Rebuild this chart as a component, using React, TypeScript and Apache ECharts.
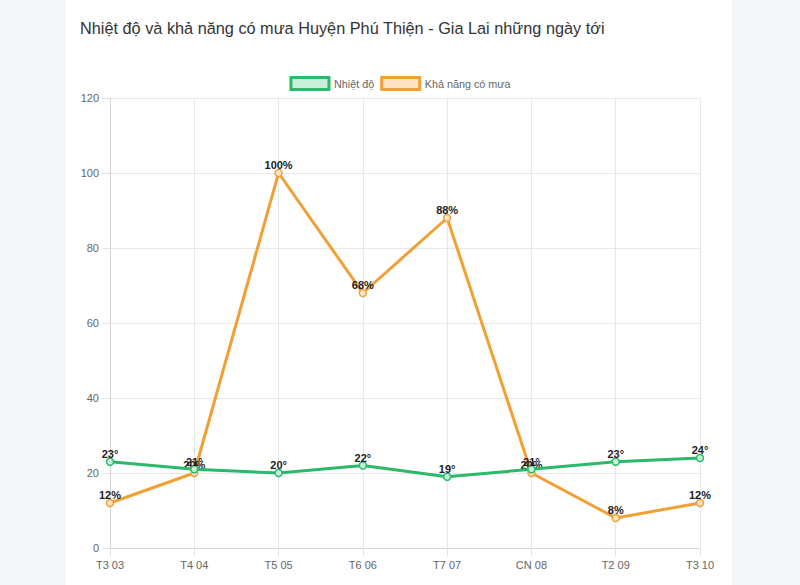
import React, { useEffect, useRef } from 'react';
import * as echarts from 'echarts';

const titleText = 'Nhiệt độ và khả năng có mưa Huyện Phú Thiện - Gia Lai những ngày tới';
const categories = ['T3 03', 'T4 04', 'T5 05', 'T6 06', 'T7 07', 'CN 08', 'T2 09', 'T3 10'];
const temperature = [23, 21, 20, 22, 19, 21, 23, 24];
const rainChance = [12, 20, 100, 68, 88, 20, 8, 12];
const seriesNames = ['Nhiệt độ', 'Khả năng có mưa'];

const GREEN = '#2bb96c';
const GREEN_FILL = '#c9eed9';
const ORANGE = '#f1a035';
const ORANGE_FILL = '#fde4c6';
const FONT = '"Liberation Sans", Arial, Helvetica, sans-serif';

export default function App() {
  const ref = useRef<HTMLDivElement>(null);

  useEffect(() => {
    if (!ref.current) return;
    const chart = echarts.init(ref.current, undefined, { renderer: 'svg' });
    const labelStyle = {
      show: true,
      position: 'top' as const,
      distance: -2,
      color: '#222',
      fontWeight: 'bold' as const,
      fontSize: 11,
      fontFamily: FONT,
    };
    chart.setOption({
      animation: false,
      backgroundColor: 'transparent',
      textStyle: { fontFamily: FONT },
      title: {
        text: titleText,
        left: 75,
        top: 15,
        textStyle: { fontSize: 16.3, fontWeight: 'normal', color: '#333', fontFamily: FONT },
      },
      legend: {
        top: 71,
        left: 'center',
        icon: 'rect',
        itemWidth: 38,
        itemHeight: 12,
        itemGap: 6,
        textStyle: { color: '#666', fontSize: 10.8, fontFamily: FONT },
        data: [
          { name: seriesNames[0], itemStyle: { color: GREEN_FILL, borderColor: GREEN, borderWidth: 3 } },
          { name: seriesNames[1], itemStyle: { color: ORANGE_FILL, borderColor: ORANGE, borderWidth: 3 } },
        ],
      },
      grid: { left: 110, right: 100, top: 98, bottom: 37 },
      xAxis: {
        type: 'category',
        data: categories,
        boundaryGap: false,
        axisLine: { show: true, lineStyle: { color: '#d4d4d4', width: 1 } },
        axisTick: { show: true, length: 8, lineStyle: { color: '#e3e3e3' } },
        splitLine: { show: true, lineStyle: { color: '#e8e8e8', width: 1 } },
        axisLabel: { color: '#666', fontSize: 11, margin: 11, fontFamily: FONT },
      },
      yAxis: {
        type: 'value',
        min: 0,
        max: 120,
        interval: 20,
        axisLine: { show: true, lineStyle: { color: '#d4d4d4', width: 1 } },
        axisTick: { show: true, length: 8, lineStyle: { color: '#e3e3e3' } },
        splitLine: { show: true, lineStyle: { color: '#e8e8e8', width: 1 } },
        axisLabel: { color: '#666', fontSize: 11, margin: 11, fontFamily: FONT },
      },
      series: [
        {
          name: seriesNames[0],
          type: 'line',
          data: temperature,
          symbol: 'circle',
          symbolSize: 7,
          lineStyle: { color: GREEN, width: 3 },
          itemStyle: { color: GREEN_FILL, borderColor: GREEN, borderWidth: 1.5 },
          label: { ...labelStyle, formatter: '{c}°' },
          z: 3,
        },
        {
          name: seriesNames[1],
          type: 'line',
          data: rainChance,
          symbol: 'circle',
          symbolSize: 7,
          lineStyle: { color: ORANGE, width: 3 },
          itemStyle: { color: ORANGE_FILL, borderColor: ORANGE, borderWidth: 1.5 },
          label: { ...labelStyle, formatter: '{c}%' },
          z: 2,
        },
      ],
    });
    return () => chart.dispose();
  }, []);

  return (
    <div style={{ position: 'fixed', left: 0, top: 0, width: 800, height: 585, background: '#f4f7f9', overflow: 'hidden' }}>
      <div style={{ position: 'absolute', left: 66, top: -6, width: 666, height: 600, background: '#fff', borderRadius: 8 }} />
      <div ref={ref} style={{ position: 'absolute', left: 0, top: 0, width: 800, height: 585 }} />
    </div>
  );
}
